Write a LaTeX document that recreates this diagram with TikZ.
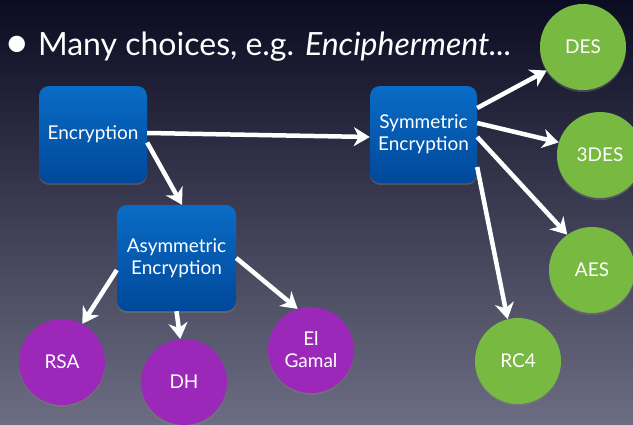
\documentclass[tikz,border=0pt]{standalone}
\usepackage{fontspec}
\setmainfont{Lato}
\usetikzlibrary{arrows.meta,shadows}
\definecolor{bgtop}{HTML}{0B0B22}
\definecolor{bgbot}{HTML}{6C6C82}
\definecolor{boxtop}{HTML}{0A6CC6}
\definecolor{boxbot}{HTML}{00489A}
\definecolor{symgreen}{HTML}{78B941}
\definecolor{asympurple}{HTML}{9B28B9}
\begin{document}
\begin{tikzpicture}[x=1pt,y=-1pt,
    cipher/.style={rectangle,rounded corners=10pt,top color=boxtop,bottom color=boxbot,
      text=white,align=center,inner sep=0pt,font=\fontsize{19}{22}\selectfont,
      drop shadow={shadow xshift=0pt,shadow yshift=-2pt,opacity=.4}},
    algo/.style={circle,minimum size=86pt,inner sep=0pt,text=white,align=center,
      font=\fontsize{19}{22}\selectfont,
      drop shadow={shadow xshift=0pt,shadow yshift=-2pt,opacity=.4}},
    symalg/.style={algo,fill=symgreen},
    asymalg/.style={algo,fill=asympurple},
    link/.style={white,line width=4.5pt,-{Stealth[length=16pt,width=19pt,inset=5pt]}}]
        % background
        \shade[top color=bgtop,bottom color=bgbot] (0,0) rectangle (633,424);
        \useasboundingbox (0,0) rectangle (633,424);
        \node[anchor=base west,text=white,font=\fontsize{32}{36}\selectfont] (title) at (1,55)
            {{\fontsize{44}{44}\selectfont\raisebox{-2pt}{\textbullet}}\hspace{8pt}Many choices, e.g. \textit{Encipherment...}};
        % encryption boxes
        \node[cipher,minimum width=108pt,minimum height=97pt] (enc) at (93,134.5) {Encryption};
        \node[cipher,minimum width=107pt,minimum height=97pt] (sym) at (423.5,134.5) {Symmetric\\Encryption};
        \node[cipher,minimum width=119pt,minimum height=106pt] (asym) at (176.5,258) {Asymmetric\\Encryption};
        % algorithms
        \node[symalg] (des) at (583,47) {DES};
        \node[symalg] (tdes) at (600,155) {3DES};
        \node[symalg] (aes) at (592,270) {AES};
        \node[symalg] (rc4) at (518,361) {RC4};
        \node[asymalg] (rsa) at (62,362) {RSA};
        \node[asymalg] (dh) at (184,382) {DH};
        \node[asymalg] (elg) at (311,350) {El\\Gamal};
        % arrows
        \draw[link] ([yshift=1.5pt]enc.east) -- ([yshift=-2.5pt]sym.west);
        \draw[link] ([yshift=-8pt]enc.east) -- ([xshift=5.5pt]asym.north);
        \draw[link] ([yshift=26.5pt]sym.east) -- (des.213);
        \draw[link] ([yshift=11.5pt]sym.east) -- (tdes.163);
        \draw[link] ([yshift=-2.5pt]sym.east) -- (aes.125);
        \draw[link] ([yshift=-32.5pt]sym.east) -- (rc4.104);
        \draw[link] ([yshift=-12pt]asym.west) -- (rsa.62);
        \draw[link] (asym.south) -- (dh.95);
        \draw[link] (asym.east) -- (elg.108);
    \end{tikzpicture}
\end{document}
